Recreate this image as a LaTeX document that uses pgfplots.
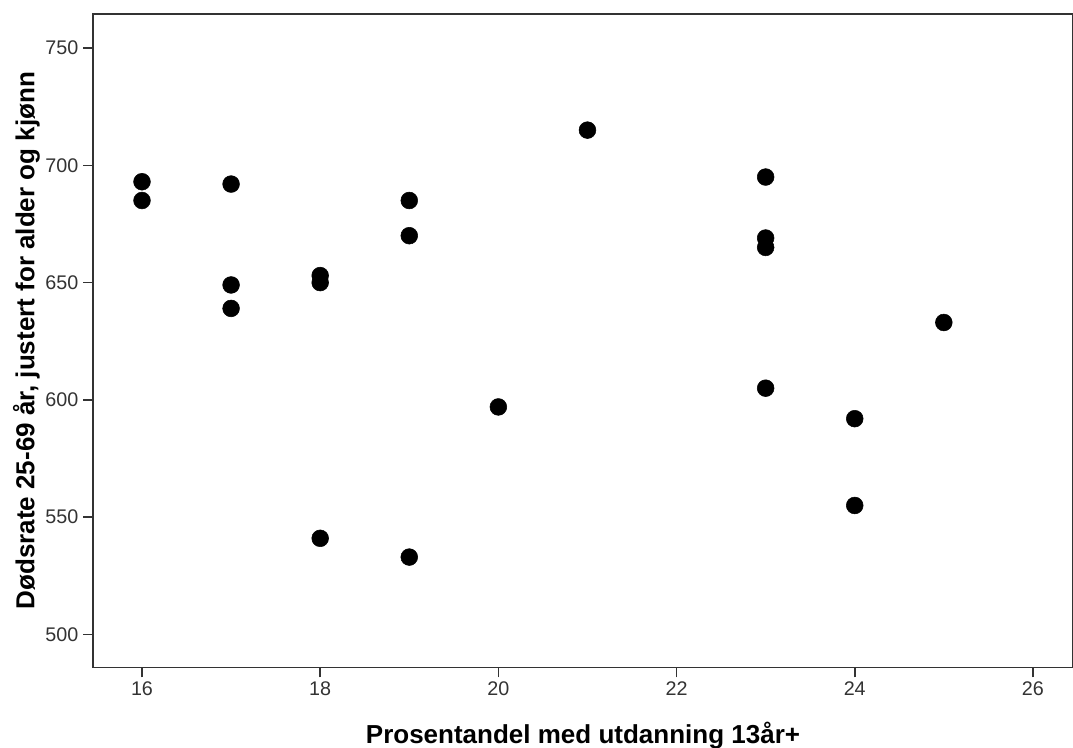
\documentclass[border=0pt]{standalone}
\usepackage{pgfplots}
\pgfplotsset{compat=1.18}
\usepackage{fontspec}
\setmainfont{Liberation Sans}
\usetikzlibrary{calc}

\begin{document}
\begin{tikzpicture}
\begin{axis}[
    name=ax,
    scale only axis,
    width=735pt,
    height=490pt,
    xmin=15.45, xmax=26.45,
    ymin=486, ymax=764.5,
    xtick={16,18,...,26},
    ytick={500,550,...,750},
    axis line style={black!80, line width=1.2pt},
    tick style={black!80, line width=1.2pt},
    tick align=outside,
    major tick length=7.5pt,
    xtick pos=bottom, ytick pos=left,
    tick label style={font=\fontsize{14.8}{17}\selectfont, text=black!80},
    /pgf/number format/assume math mode=true,
    /pgf/number format/1000 sep={},
    xlabel={Prosentandel med utdanning 13år+},
    ylabel={Dødsrate 25-69 år, justert for alder og kjønn},
    label style={font=\bfseries\fontsize{19.5}{22}\selectfont},
    xlabel style={at={(axis description cs:0.5,0)}, anchor=center, yshift=-51pt},
    ylabel style={at={(axis description cs:0,0.5)}, anchor=center, yshift=50pt},
    clip=false,
]
\addplot[only marks, mark=*, mark size=6.3pt, mark options={fill=black, draw=black}]
coordinates {
(16,693) (16,685)
(17,692) (17,649) (17,639)
(18,653) (18,650) (18,541)
(19,685) (19,670) (19,533)
(20,597) (21,715)
(23,695) (23,669) (23,665) (23,605)
(24,592) (24,555)
(25,633)
};
\end{axis}
\pgfresetboundingbox
\path ($(ax.south west)+(-69.75pt,-60pt)$) rectangle ($(ax.north east)+(0pt,10.5pt)$);
\end{tikzpicture}
\end{document}
